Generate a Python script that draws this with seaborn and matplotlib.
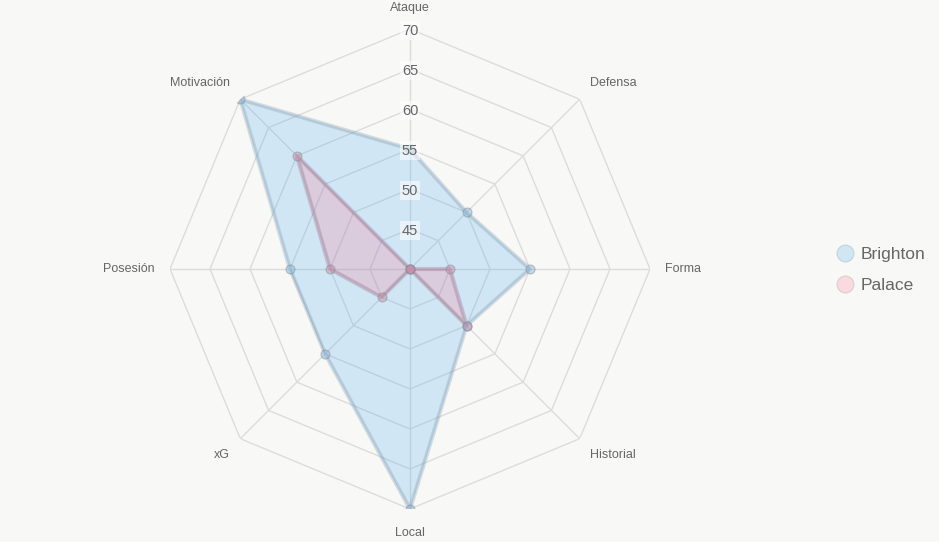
import numpy as np
import pandas as pd
import matplotlib
matplotlib.use("Agg")
import matplotlib.pyplot as plt
from matplotlib.lines import Line2D
import seaborn as sns

categories = ["Ataque", "Defensa", "Forma", "Historial", "Local", "xG", "Posesión", "Motivación"]
brighton = [55, 50, 55, 50, 70, 55, 55, 70]
palace = [40, 40, 45, 50, 40, 45, 50, 60]
teams = ["Brighton", "Palace"]
radial_ticks = [45, 50, 55, 60, 65, 70]
r_min, r_max = 40, 70

BG = "#f8f8f7"
sns.set_theme(style="white")
plt.rcParams["font.family"] = ["Liberation Sans", "DejaVu Sans"]

fig = plt.figure(figsize=(9.39, 5.42), dpi=100, facecolor=BG)
ax = fig.add_axes([170 / 939, (542 - 269 - 240) / 542, 480 / 939, 480 / 542], projection="polar")
ax.set_facecolor("none")
ax.set_theta_zero_location("N")
ax.set_theta_direction(-1)
ax.set_ylim(r_min, r_max)
ax.grid(False)
ax.spines["polar"].set_visible(False)
ax.set_xticks([])
ax.set_yticks([])

n = len(categories)
theta = np.linspace(0, 2 * np.pi, n, endpoint=False)
theta_c = np.append(theta, theta[0])

grid_col = "#dcdcdc"
for v in radial_ticks:
    ax.plot(theta_c, [v] * (n + 1), color=grid_col, lw=1, zorder=1)
for t in theta:
    ax.plot([t, t], [r_min, r_max], color=grid_col, lw=1, zorder=1)

df = pd.DataFrame({
    "theta": np.concatenate([theta, theta]),
    "value": brighton + palace,
    "team": ["Brighton"] * n + ["Palace"] * n,
})

fills = {"Brighton": (54 / 255, 162 / 255, 235 / 255, 0.2), "Palace": (255 / 255, 99 / 255, 132 / 255, 0.2)}
edges = {"Brighton": (0.55, 0.62, 0.68, 0.33), "Palace": (0.55, 0.45, 0.55, 0.33)}
pts = {"Brighton": (0.55, 0.72, 0.85), "Palace": (0.80, 0.55, 0.65)}
for team in teams:
    sub = df[df.team == team]
    vals = np.append(sub.value.values, sub.value.values[0])
    ax.fill(theta_c, vals, color=fills[team], zorder=2)
    ax.plot(theta_c, vals, color=edges[team], lw=3, zorder=3)
    sns.scatterplot(data=sub, x="theta", y="value", ax=ax, color=pts[team],
                    alpha=0.45, s=40, edgecolor=(0.5, 0.55, 0.6), linewidth=1.0,
                    zorder=4, legend=False)
ax.set_xlabel("")
ax.set_ylabel("")
ax.set_ylim(r_min, r_max)

# radial tick labels
for v in radial_ticks:
    ax.text(0, v - 0.2, str(v), ha="center", va="center", fontsize=10.5, color="#666666", zorder=6,
            bbox=dict(boxstyle="square,pad=0.15", fc=(1, 1, 1, 0.55), ec="none"))

# category labels
for t, lab in zip(theta, categories):
    s, c = np.sin(t), np.cos(t)
    ha = "center" if abs(s) < 0.01 else ("left" if s > 0 else "right")
    va = "center" if abs(c) < 0.01 else ("bottom" if c > 0 else "top")
    r_lab = 72.2 if c < -0.9 else 71.9
    ax.text(t, r_lab, lab, ha=ha, va=va, fontsize=9, color="#666666", clip_on=False)

handles = [
    Line2D([0], [0], marker="o", linestyle="", markersize=12,
           markerfacecolor=(0.82, 0.90, 0.96), markeredgecolor=(0.78, 0.84, 0.89), label="Brighton"),
    Line2D([0], [0], marker="o", linestyle="", markersize=12,
           markerfacecolor=(0.98, 0.85, 0.88), markeredgecolor=(0.88, 0.82, 0.84), label="Palace"),
]
fig.legend(handles=handles, loc="center left", bbox_to_anchor=(819 / 939, 1 - 270 / 542),
           frameon=False, fontsize=12.5, labelcolor="#666666", handletextpad=0.3,
           labelspacing=0.95, handlelength=1.2)

fig.savefig("out.png", dpi=100, facecolor=BG)
